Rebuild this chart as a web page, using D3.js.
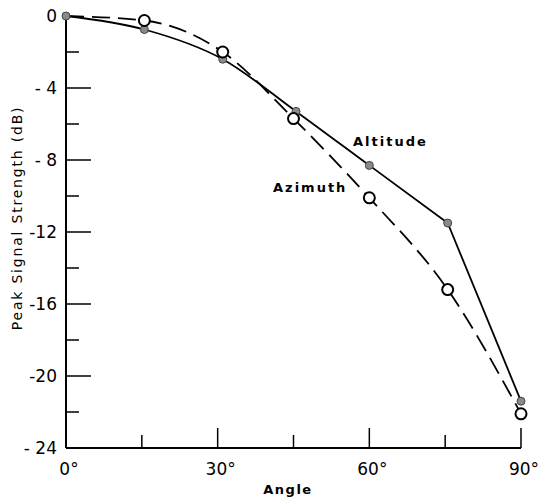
<!DOCTYPE html>
<html><head><meta charset="utf-8">
<script src="https://cdn.jsdelivr.net/npm/d3@7"></script>
<style>body{margin:0;background:#fff}svg{display:block}</style>
</head><body>
<script>
const altitudeAngles = [0, 15.5, 31, 45.5, 60, 75.5, 90];
const altitudeValues = [0, -0.75, -2.4, -5.3, -8.3, -11.5, -21.4];
const azimuthAngles = [0, 15.5, 31, 45, 60, 75.5, 90];
const azimuthValues = [0, -0.25, -2.0, -5.7, -10.1, -15.2, -22.1];
const xTicks = [0, 15, 30, 45, 60, 75, 90];
const xTickLabels = ["0°", "", "30°", "", "60°", "", "90°"];
const yTicks = [0, -2, -4, -6, -8, -10, -12, -14, -16, -18, -20, -22, -24];
const yTickLabels = {"0":"0","-4":"- 4","-8":"- 8","-12":"-12","-16":"-16","-20":"-20","-24":"- 24"};

const W = 542, H = 504;
const svg = d3.select("body").append("svg").attr("width", W).attr("height", H);
const x = d3.scaleLinear().domain([0, 90]).range([66, 521]);
const y = d3.scaleLinear().domain([0, -24]).range([16, 448]);
const font = "'DejaVu Sans', 'Liberation Sans', Arial, sans-serif";

svg.append("line").attr("x1", x(0)).attr("x2", x(0)).attr("y1", y(0)).attr("y2", y(-24))
  .attr("stroke", "#000").attr("stroke-width", 2);
svg.append("line").attr("x1", x(0)).attr("x2", x(90)).attr("y1", y(-24)).attr("y2", y(-24))
  .attr("stroke", "#000").attr("stroke-width", 2);

yTicks.forEach(v => {
  if (v === 0 || v === -24) return;
  const major = v % 4 === 0;
  svg.append("line").attr("x1", x(0)).attr("x2", x(0) + (major ? 25 : 13))
    .attr("y1", y(v)).attr("y2", y(v)).attr("stroke", "#000").attr("stroke-width", 1.5);
});
yTicks.forEach(v => {
  const lab = yTickLabels[String(v)];
  if (!lab) return;
  svg.append("text").attr("x", x(0) - 9).attr("y", y(v)).attr("dy", "0.36em")
    .attr("text-anchor", "end").attr("font-family", font).attr("font-size", 17)
    .text(lab);
});

xTicks.forEach(v => {
  if (v === 0) return;
  const major = v % 30 === 0;
  svg.append("line").attr("x1", x(v)).attr("x2", x(v))
    .attr("y1", y(-24)).attr("y2", y(-24) - (major ? 20 : 13))
    .attr("stroke", "#000").attr("stroke-width", 1.5);
});
xTicks.forEach((v, i) => {
  if (!xTickLabels[i]) return;
  svg.append("text").attr("x", x(v) + 3).attr("y", y(-24) + 27)
    .attr("text-anchor", "middle").attr("font-family", font).attr("font-size", 17)
    .text(xTickLabels[i]);
});

svg.append("text").attr("x", 288).attr("y", 494).attr("text-anchor", "middle")
  .attr("font-family", font).attr("font-size", 13).attr("font-weight", "bold")
  .attr("letter-spacing", "1.5px").text("Angle");
svg.append("text").attr("transform", "translate(22,218) rotate(-90)")
  .attr("text-anchor", "middle").attr("font-family", font).attr("font-size", 14)
  .attr("letter-spacing", "1.8px").text("Peak Signal Strength (dB)");

const altData = altitudeAngles.map((a, i) => [a, altitudeValues[i]]);
const azData = azimuthAngles.map((a, i) => [a, azimuthValues[i]]);
const smooth = d3.line().x(d => x(d[0])).y(d => y(d[1])).curve(d3.curveMonotoneX);

// altitude: smooth up to 75°, then the final drop
svg.append("path").datum(altData.slice(0, 6)).attr("d", smooth).attr("fill", "none")
  .attr("stroke", "#000").attr("stroke-width", 1.8);
svg.append("path").datum(altData.slice(5)).attr("d", smooth).attr("fill", "none")
  .attr("stroke", "#000").attr("stroke-width", 1.8);
svg.append("path").datum(azData).attr("d", smooth).attr("fill", "none")
  .attr("stroke", "#000").attr("stroke-width", 1.8).attr("stroke-dasharray", "18,8");

svg.selectAll("circle.alt").data(altData).enter().append("circle")
  .attr("cx", d => x(d[0])).attr("cy", d => y(d[1])).attr("r", 4)
  .attr("fill", "#8a8a8a").attr("stroke", "#444").attr("stroke-width", 1);
svg.selectAll("circle.az").data(azData.slice(1)).enter().append("circle")
  .attr("cx", d => x(d[0])).attr("cy", d => y(d[1])).attr("r", 5.5)
  .attr("fill", "#fff").attr("stroke", "#000").attr("stroke-width", 2);

svg.append("text").attr("x", 353).attr("y", 146).attr("font-family", font)
  .attr("font-size", 13).attr("font-weight", "bold").attr("letter-spacing", "2px").text("Altitude");
svg.append("text").attr("x", 273).attr("y", 192).attr("font-family", font)
  .attr("font-size", 13).attr("font-weight", "bold").attr("letter-spacing", "2px").text("Azimuth");
</script>
</body></html>
